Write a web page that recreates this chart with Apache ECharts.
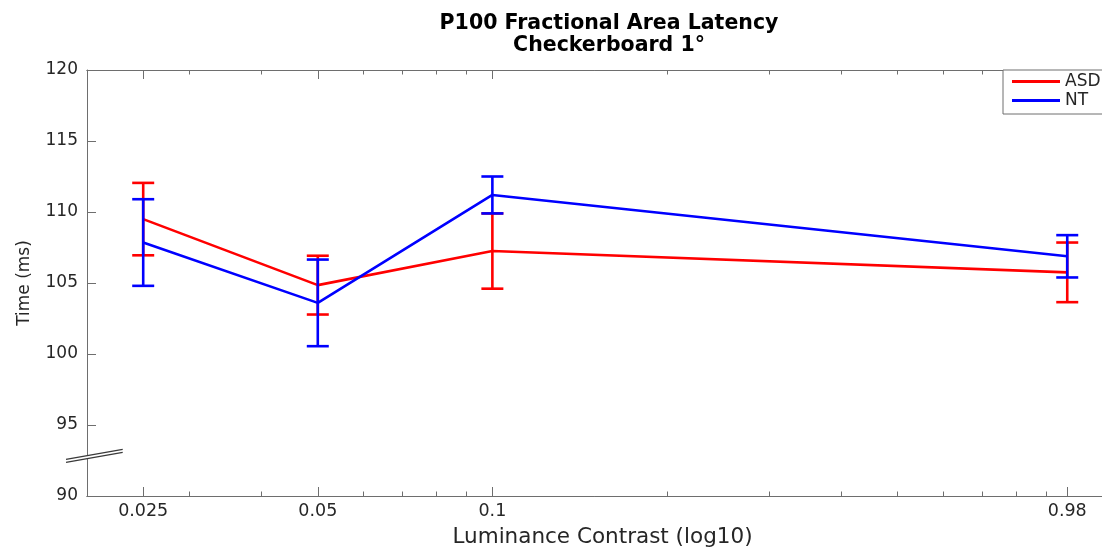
<!DOCTYPE html>
<html>
<head>
<meta charset="utf-8">
<title>P100 Fractional Area Latency</title>
<script src="https://cdn.jsdelivr.net/npm/echarts@6/dist/echarts.min.js"></script>
<style>
  html, body { margin: 0; padding: 0; background: #ffffff; }
  #chart { width: 1102px; height: 548px; }
</style>
</head>
<body>
<div id="chart"></div>
<script>
// Luminance contrast levels (x, plotted on a log10 scale)
const contrast = [0.025, 0.05, 0.1, 0.98];
// Group means and error-bar half widths (ms)
const asdMean = [109.5, 104.85, 107.25, 105.75];
const asdErr  = [2.55, 2.07, 2.65, 2.1];
const ntMean  = [107.85, 103.6, 111.2, 106.88];
const ntErr   = [3.05, 3.05, 1.3, 1.49];
// Axis ticks
const xTickValues = [0.025, 0.05, 0.1, 0.98];
const xTickLabels = ['0.025', '0.05', '0.1', '0.98'];
const xMinorValues = [0.03, 0.04, 0.06, 0.07, 0.08, 0.09, 0.2, 0.3, 0.4, 0.5, 0.6, 0.7, 0.8, 0.9];
const xRange = [0.02, 1.125];
const yRange = [90, 120];
const yStep = 5;

const FONT = 'DejaVu Sans';
const AXIS_COLOR = '#6e6e6e';
const TEXT_COLOR = '#262626';
const lg = Math.log10;

const majorLog = xTickValues.map(lg);
const minorLog = xMinorValues.map(lg);

function lineData(means) {
  return contrast.map((c, i) => [lg(c), means[i]]);
}
function errData(means, errs) {
  return contrast.map((c, i) => [lg(c), means[i] - errs[i], means[i] + errs[i]]);
}
function errRenderer(color) {
  return function (params, api) {
    const x = api.value(0);
    const pLo = api.coord([x, api.value(1)]);
    const pHi = api.coord([x, api.value(2)]);
    const half = 11;
    const style = { stroke: color, lineWidth: 2.6, fill: null };
    return {
      type: 'group',
      children: [
        { type: 'line', shape: { x1: pLo[0], y1: pLo[1], x2: pHi[0], y2: pHi[1] }, style },
        { type: 'line', shape: { x1: pLo[0] - half, y1: pLo[1], x2: pLo[0] + half, y2: pLo[1] }, style },
        { type: 'line', shape: { x1: pHi[0] - half, y1: pHi[1], x2: pHi[0] + half, y2: pHi[1] }, style }
      ]
    };
  };
}

function xAxisBase(position, ticks, len, withLabels) {
  return {
    type: 'value',
    position: position,
    gridIndex: 0,
    min: lg(xRange[0]),
    max: lg(xRange[1]),
    axisLine: { show: true, onZero: false, lineStyle: { color: AXIS_COLOR, width: 1 } },
    axisTick: { show: true, inside: true, length: len, customValues: ticks,
                lineStyle: { color: AXIS_COLOR, width: 1 } },
    axisLabel: withLabels ? {
      show: true, customValues: majorLog, margin: 6,
      fontFamily: FONT, fontSize: 17.5, color: TEXT_COLOR,
      formatter: function (v) {
        let best = 0;
        majorLog.forEach((m, i) => { if (Math.abs(m - v) < Math.abs(majorLog[best] - v)) best = i; });
        return xTickLabels[best];
      }
    } : { show: false },
    splitLine: { show: false }
  };
}

const xMain = xAxisBase('bottom', majorLog, 9, true);
xMain.name = 'Luminance Contrast (log10)';
xMain.nameLocation = 'middle';
xMain.nameGap = 30;
xMain.nameTextStyle = { fontFamily: FONT, fontSize: 21.5, color: TEXT_COLOR, padding: [0, 0, 0, 16] };

const chart = echarts.init(document.getElementById('chart'), null, { renderer: 'canvas' });
chart.setOption({
  animation: false,
  backgroundColor: '#ffffff',
  title: {
    text: 'P100 Fractional Area Latency\nCheckerboard 1°',
    left: 609,
    top: 13,
    textAlign: 'center',
    padding: 0,
    textStyle: { fontFamily: FONT, fontWeight: 'bold', fontSize: 20.5, lineHeight: 22, color: '#000000' }
  },
  legend: {
    orient: 'vertical',
    left: 1003,
    top: 70,
    padding: [3, 60, 5, 9],
    itemWidth: 48,
    itemHeight: 3,
    itemGap: 2,
    icon: 'rect',
    borderColor: AXIS_COLOR,
    borderWidth: 1,
    borderRadius: 0,
    backgroundColor: '#ffffff',
    textStyle: { fontFamily: FONT, fontSize: 17, lineHeight: 17, color: TEXT_COLOR },
    data: ['ASD', 'NT']
  },
  grid: { left: 87, top: 70, right: 0, bottom: 52, containLabel: false, outerBoundsMode: 'none' },
  xAxis: [
    xMain,
    xAxisBase('bottom', minorLog, 4.5, false),
    xAxisBase('top', majorLog, 9, false),
    xAxisBase('top', minorLog, 4.5, false)
  ],
  yAxis: [{
    type: 'value',
    position: 'left',
    min: yRange[0],
    max: yRange[1],
    interval: yStep,
    name: 'Time (ms)',
    nameLocation: 'middle',
    nameGap: 54,
    nameTextStyle: { fontFamily: FONT, fontSize: 17, color: TEXT_COLOR },
    axisLine: { show: true, onZero: false, lineStyle: { color: AXIS_COLOR, width: 1 } },
    axisTick: { show: true, inside: true, length: 9, lineStyle: { color: AXIS_COLOR, width: 1 } },
    axisLabel: { margin: 9, fontFamily: FONT, fontSize: 17, color: TEXT_COLOR },
    splitLine: { show: false }
  }],
  series: [
    {
      name: 'ASD', type: 'line', xAxisIndex: 0, yAxisIndex: 0,
      data: lineData(asdMean), symbol: 'none', color: '#ff0000',
      lineStyle: { width: 2.6, color: '#ff0000' }, z: 2
    },
    {
      name: 'ASD error', type: 'custom', xAxisIndex: 0, yAxisIndex: 0,
      data: errData(asdMean, asdErr), encode: { x: 0, y: [1, 2] },
      renderItem: errRenderer('#ff0000'), z: 2
    },
    {
      name: 'NT', type: 'line', xAxisIndex: 0, yAxisIndex: 0,
      data: lineData(ntMean), symbol: 'none', color: '#0000ff',
      lineStyle: { width: 2.6, color: '#0000ff' }, z: 3
    },
    {
      name: 'NT error', type: 'custom', xAxisIndex: 0, yAxisIndex: 0,
      data: errData(ntMean, ntErr), encode: { x: 0, y: [1, 2] },
      renderItem: errRenderer('#0000ff'), z: 3
    }
  ],
  // Axis-break marker on the y axis
  graphic: [
    { type: 'polygon', z: 100,
      shape: { points: [[66, 459.3], [122.7, 449.3], [122.7, 452.3], [66, 462.3]] },
      style: { fill: '#ffffff' } },
    { type: 'line', z: 101,
      shape: { x1: 66, y1: 459.3, x2: 122.7, y2: 449.3 },
      style: { stroke: '#3a3a3a', lineWidth: 1.3 } },
    { type: 'line', z: 101,
      shape: { x1: 66, y1: 462.3, x2: 122.7, y2: 452.3 },
      style: { stroke: '#3a3a3a', lineWidth: 1.3 } }
  ]
});
</script>
</body>
</html>
